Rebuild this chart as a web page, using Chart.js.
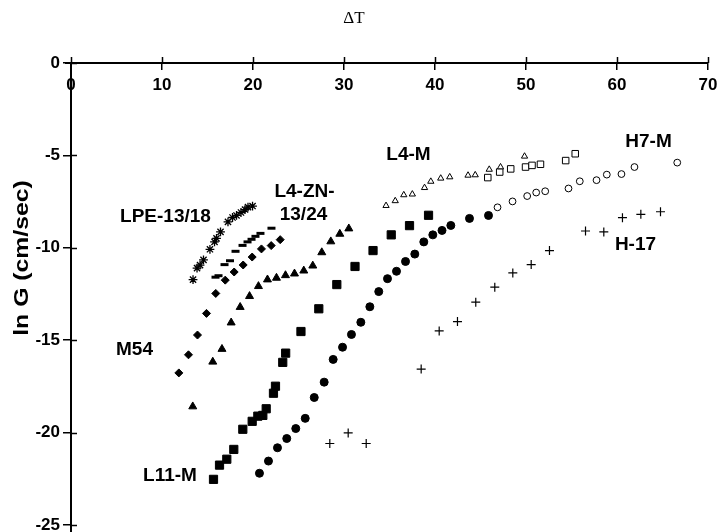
<!DOCTYPE html>
<html><head><meta charset="utf-8">
<script src="https://cdn.jsdelivr.net/npm/chart.js@4/dist/chart.umd.min.js"></script>
<style>html,body{margin:0;padding:0;background:#fff}#wrap{width:728px;height:532px}</style>
</head><body><div id="wrap"><canvas id="c"></canvas></div>
<script>
// ---- data (ΔT vs ln G) ----
const xTickValues = [0, 10, 20, 30, 40, 50, 60, 70];
const yTickValues = [0, -5, -10, -15, -20, -25];

const lpeX = [13.41, 13.85, 14.18, 14.56, 15.27, 15.77, 15.99, 16.43, 17.25, 17.75, 18.19, 18.68, 19.12, 19.45, 19.95];
const lpeY = [-11.72, -11.10, -10.94, -10.65, -10.08, -9.68, -9.49, -9.14, -8.60, -8.36, -8.25, -8.09, -7.93, -7.80, -7.74];

const dashX = [15.88, 16.21, 16.87, 17.47, 18.08, 18.85, 19.40, 19.84, 20.27, 20.82, 22.03];
const dashY = [-11.59, -11.51, -10.91, -10.70, -10.19, -9.87, -9.68, -9.54, -9.38, -9.22, -8.94];

const m54X = [11.85, 12.91, 13.90, 14.89, 15.91, 16.95, 17.93, 18.92, 19.91, 20.93, 22.00, 22.99];
const m54Y = [-16.77, -15.79, -14.72, -13.55, -12.47, -11.75, -11.31, -10.93, -10.50, -10.06, -9.88, -9.56];

const znX = [13.38, 15.58, 16.59, 17.60, 18.59, 19.62, 20.60, 21.59, 22.58, 23.57, 24.56, 25.58, 26.57, 27.56, 28.55, 29.54, 30.53];
const znY = [-18.59, -16.17, -15.48, -14.05, -13.21, -12.62, -12.08, -11.72, -11.63, -11.49, -11.40, -11.24, -10.97, -10.25, -9.66, -9.25, -8.96];

const l11X = [15.66, 16.32, 17.12, 17.89, 18.88, 19.91, 20.53, 21.08, 21.45, 22.25, 22.47, 23.27, 23.59, 25.27, 27.23, 29.21, 31.21, 33.19, 35.19, 37.20, 39.29];
const l11Y = [-22.53, -21.76, -21.44, -20.91, -19.82, -19.39, -19.11, -19.07, -18.71, -17.87, -17.49, -16.20, -15.70, -14.53, -13.30, -11.99, -11.01, -10.15, -9.30, -8.80, -8.24];

const dotX = [20.71, 21.70, 22.69, 23.71, 24.70, 25.74, 26.73, 27.82, 28.81, 29.84, 30.82, 31.85, 32.84, 33.82, 34.78, 35.77, 36.76, 37.78, 38.77, 39.76, 40.77, 41.74, 43.79, 45.88];
const dotY = [-22.20, -21.54, -20.82, -20.32, -19.78, -19.23, -18.10, -17.27, -16.04, -15.38, -14.69, -14.03, -13.19, -12.37, -11.67, -11.27, -10.74, -10.34, -9.68, -9.30, -9.06, -8.79, -8.41, -8.25];

const ringX = [46.87, 48.52, 50.13, 51.12, 52.11, 54.67, 55.91, 57.75, 58.88, 60.49, 61.92, 66.62];
const ringY = [-7.81, -7.49, -7.20, -7.01, -6.94, -6.79, -6.40, -6.34, -6.04, -6.01, -5.63, -5.39];

const l4mX = [34.62, 35.63, 36.57, 37.51, 38.85, 39.54, 40.63, 41.62, 43.63, 44.42, 45.96, 47.20, 49.84];
const l4mY = [-7.72, -7.46, -7.14, -7.10, -6.75, -6.41, -6.24, -6.17, -6.08, -6.06, -5.76, -5.63, -5.05];

const boxX = [45.80, 47.11, 48.32, 49.95, 50.66, 51.59, 54.36, 55.41];
const boxY = [-6.20, -5.90, -5.73, -5.63, -5.54, -5.48, -5.28, -4.91];

const h17X = [28.44, 30.46, 32.44, 38.48, 40.46, 42.47, 44.48, 46.57, 48.55, 50.57, 52.58, 56.54, 58.55, 60.60, 62.62, 64.78];
const h17Y = [-20.59, -20.02, -20.59, -16.56, -14.50, -13.99, -12.94, -12.13, -11.36, -10.91, -10.15, -9.09, -9.14, -8.37, -8.19, -8.05];

// series annotation labels and their anchor values
const labelText = ['LPE-13/18', 'L4-ZN-', '13/24', 'L4-M', 'H7-M', 'H-17', 'M54', 'L11-M'];
const labelX = [10.38, 25.66, 25.55, 37.09, 63.46, 62.03, 6.98, 10.88];
const labelY = [-8.33, -6.99, -8.23, -4.95, -4.25, -9.84, -15.54, -22.31];

const xTitle = 'ΔT';
const yTitle = 'ln G (cm/sec)';
const yTitleAt = -10.55;

// ---- build ----
const pts = (xs, ys) => xs.map((x, i) => ({x, y: ys[i]}));
function ds(label, xs, ys, style) {
  return Object.assign({label, data: pts(xs, ys), borderColor: '#000', backgroundColor: '#000', borderWidth: 1}, style);
}

const datasets = [
  ds('LPE-13/18', lpeX, lpeY, {pointStyle: 'star', pointRadius: 4.4, borderWidth: 1.3, backgroundColor: '#000'}),
  ds('dash', dashX, dashY, {pointStyle: 'line', pointRadius: 4, borderWidth: 3}),
  ds('M54', m54X, m54Y, {pointStyle: 'rectRot', pointRadius: 4}),
  ds('L4-ZN-13/24', znX, znY, {pointStyle: 'triangle', pointRadius: 4.6}),
  ds('L11-M', l11X, l11Y, {pointStyle: 'rect', pointRadius: 5.8}),
  ds('filled circles', dotX, dotY, {pointStyle: 'circle', pointRadius: 4}),
  ds('H7-M', ringX, ringY, {pointStyle: 'circle', pointRadius: 3.4, backgroundColor: '#fff'}),
  ds('L4-M', l4mX, l4mY, {pointStyle: 'triangle', pointRadius: 3.6, backgroundColor: '#fff'}),
  ds('open squares', boxX, boxY, {pointStyle: 'rect', pointRadius: 4.6, backgroundColor: '#fff'}),
  ds('H-17', h17X, h17Y, {pointStyle: 'cross', pointRadius: 4.5, borderWidth: 1.2})
];

const extras = {
  id: 'extras',
  afterDraw(chart) {
    const {ctx, chartArea, scales} = chart;
    const xs = scales.x, ys = scales.y;
    ctx.save();
    ctx.strokeStyle = '#000';
    ctx.lineWidth = 1.5;
    // complete crossing tick marks
    ctx.beginPath();
    xTickValues.forEach(v => {
      const px = Math.round(xs.getPixelForValue(v)) + 0.5;
      ctx.moveTo(px, chartArea.top - 6); ctx.lineTo(px, chartArea.top);
    });
    yTickValues.forEach(v => {
      const py = Math.round(ys.getPixelForValue(v)) + 0.5;
      ctx.moveTo(chartArea.left, py); ctx.lineTo(chartArea.left + 6, py);
    });
    ctx.stroke();
    ctx.lineWidth = 2;
    ctx.beginPath();
    ctx.moveTo(chartArea.left, chartArea.bottom); ctx.lineTo(chartArea.left, chartArea.bottom + 8);
    ctx.moveTo(chartArea.left - 6, chartArea.top); ctx.lineTo(chartArea.left, chartArea.top);
    ctx.stroke();
    // series labels
    ctx.fillStyle = '#000';
    ctx.font = 'bold 19px "Liberation Sans", Arial, sans-serif';
    ctx.textAlign = 'center';
    ctx.textBaseline = 'middle';
    labelText.forEach((t, i) => ctx.fillText(t, xs.getPixelForValue(labelX[i]), ys.getPixelForValue(labelY[i])));
    // y axis title
    ctx.translate(22, ys.getPixelForValue(yTitleAt));
    ctx.rotate(-Math.PI / 2);
    ctx.scale(1.18, 1);
    ctx.font = 'bold 21px "Liberation Sans", Arial, sans-serif';
    ctx.fillText(yTitle, 0, 0);
    ctx.restore();
  }
};

new Chart(document.getElementById('c'), {
  type: 'scatter',
  data: {datasets},
  options: {
    responsive: true,
    maintainAspectRatio: false,
    animation: false,
    devicePixelRatio: 1,
    layout: {padding: {left: 0, right: 20, top: 0, bottom: 3}},
    plugins: {
      legend: {display: false},
      tooltip: {enabled: false},
      title: {display: true, text: xTitle, color: '#000',
        font: {family: '"Liberation Serif", "Times New Roman", serif', size: 17, weight: 'normal'},
        padding: {top: 8, bottom: 34.6}}
    },
    scales: {
      x: {
        type: 'linear', position: {y: 0}, min: 0, max: 70,
        afterBuildTicks: s => { s.ticks = xTickValues.map(v => ({value: v})); },
        afterFit: s => { s.paddingLeft = 0; s.paddingRight = 0; },
        ticks: {color: '#000', padding: 6, font: {family: '"Liberation Sans", Arial, sans-serif', size: 17, weight: 'bold'}},
        grid: {drawOnChartArea: false, tickLength: 6, color: '#000', lineWidth: 1.5},
        border: {color: '#000', width: 2}
      },
      y: {
        type: 'linear', position: 'left', min: -25, max: 0,
        afterBuildTicks: s => { s.ticks = yTickValues.map(v => ({value: v})); },
        afterFit: s => { s.width = 71; s.paddingTop = 0; s.paddingBottom = 0; },
        ticks: {color: '#000', padding: 3, font: {family: '"Liberation Sans", Arial, sans-serif', size: 17, weight: 'bold'}},
        grid: {drawOnChartArea: false, tickLength: 8, color: '#000', lineWidth: 1.5},
        border: {color: '#000', width: 2}
      }
    }
  },
  plugins: [extras]
});
</script>
</body></html>
